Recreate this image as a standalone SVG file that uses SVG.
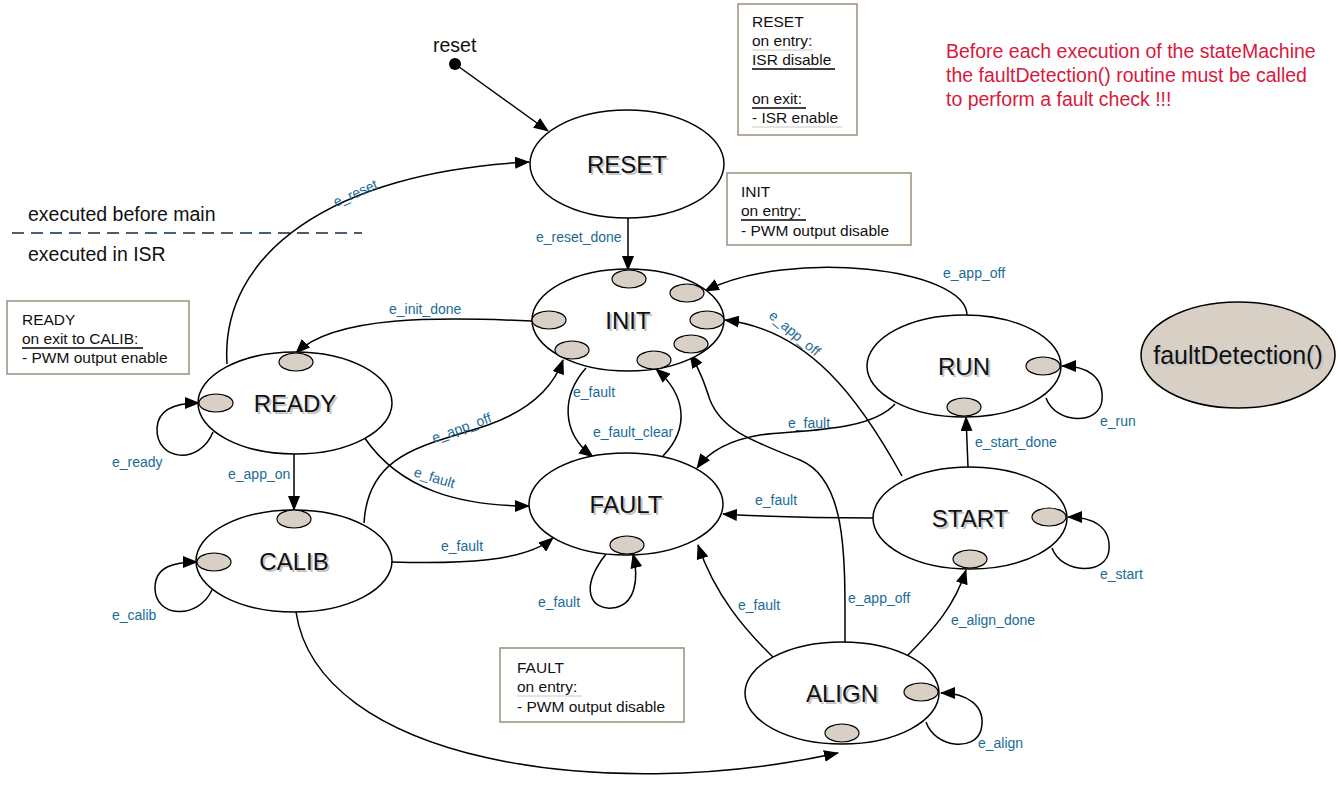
<svg xmlns="http://www.w3.org/2000/svg" width="1341" height="788" viewBox="0 0 1341 788">
<style>
text{font-family:"Liberation Sans",Arial,sans-serif}
.st{fill:#fff;stroke:#000;stroke-width:1.5}
.mk{fill:#d8d0c5;stroke:#000;stroke-width:1.2}
.lbl{font-size:24px;fill:#111;text-anchor:middle}
.sh{font-size:24px;fill:#c4c4c4;text-anchor:middle}
.el{font-size:14px;fill:#1a6b98}
.note{fill:#fff;stroke:#9c8d7d;stroke-width:1.5}
.nt{font-size:15.5px;fill:#111}
.c{fill:none;stroke:#000;stroke-width:1.5}
.red{font-size:19.5px;fill:#d7193c}
.big{font-size:19.5px;fill:#111}
.ul{stroke:#000;stroke-width:1.3}
.ulg{stroke:#c8c8c8;stroke-width:1}
</style>
<defs>
<marker id="ah" markerWidth="15" markerHeight="12" refX="14" refY="6" orient="auto" markerUnits="userSpaceOnUse"><path d="M0,0 L15,6 L0,12 z" fill="#000"/></marker>
</defs>
<rect width="1341" height="788" fill="#fff"/>

<!-- separator -->
<text class="big" x="28" y="221">executed before main</text>
<line x1="12" y1="233" x2="362" y2="233" stroke="#4a5e72" stroke-width="2" stroke-dasharray="12 7"/>
<text class="big" x="28" y="261">executed in ISR</text>

<!-- red note -->
<text class="red" x="946" y="58">Before each execution of the stateMachine</text>
<text class="red" x="946" y="82">the faultDetection() routine must be called</text>
<text class="red" x="946" y="106">to perform a fault check !!!</text>

<!-- notes -->
<g id="note-reset">
<rect class="note" x="738" y="4" width="119" height="131"/>
<text class="nt" x="752" y="27">RESET</text>
<text class="nt" x="752" y="46">on entry:</text>
<line class="ulg" x1="752" y1="50" x2="813" y2="50"/>
<text class="nt" x="752" y="65">ISR disable</text>
<line class="ul" x1="752" y1="69" x2="835" y2="69"/>
<text class="nt" x="752" y="104">on exit:</text>
<line class="ul" x1="752" y1="108" x2="806" y2="108"/>
<text class="nt" x="752" y="123">- ISR enable</text>
<line class="ulg" x1="752" y1="127" x2="842" y2="127"/>
</g>
<g id="note-init">
<rect class="note" x="727" y="173" width="184" height="72"/>
<text class="nt" x="741" y="197">INIT</text>
<text class="nt" x="741" y="216">on entry:</text>
<line class="ul" x1="741" y1="220" x2="806" y2="220"/>
<text class="nt" x="741" y="236">- PWM output disable</text>
</g>
<g id="note-ready">
<rect class="note" x="7" y="301" width="182" height="73"/>
<text class="nt" x="22" y="325">READY</text>
<text class="nt" x="22" y="344">on exit to CALIB:</text>
<line class="ul" x1="22" y1="348" x2="143" y2="348"/>
<text class="nt" x="22" y="363">- PWM output enable</text>
</g>
<g id="note-fault">
<rect class="note" x="500" y="648" width="184" height="74"/>
<text class="nt" x="517" y="673">FAULT</text>
<text class="nt" x="517" y="692">on entry:</text>
<line class="ulg" x1="517" y1="696" x2="582" y2="696"/>
<text class="nt" x="517" y="712">- PWM output disable</text>
</g>

<!-- connectors -->
<g id="connectors">
<circle cx="455" cy="64" r="6" fill="#000"/>
<path class="c" d="M455,64 L548,131" marker-end="url(#ah)"/>
<path class="c" d="M227,364 C220,255 330,172 529,162" marker-end="url(#ah)"/>
<path class="c" d="M628,218 L628,270" marker-end="url(#ah)"/>
<path class="c" d="M532,321 C440,317 335,315 296,353" marker-end="url(#ah)"/>
<path class="c" d="M213,432 C200,465 156,462 157,428 C158,408 178,403 199,403" marker-end="url(#ah)"/>
<path class="c" d="M294,454 L294,510" marker-end="url(#ah)"/>
<path class="c" d="M364,437 C400,490 460,506 529,506" marker-end="url(#ah)"/>
<path class="c" d="M364,523 C368,450 430,445 488,425 C530,410 553,388 563,360" marker-end="url(#ah)"/>
<path class="c" d="M392,562 C460,564 525,562 553,538" marker-end="url(#ah)"/>
<path class="c" d="M212,590 C198,620 155,618 155,588 C155,566 175,562 197,562" marker-end="url(#ah)"/>
<path class="c" d="M296,612 C318,760 600,805 838,753" marker-end="url(#ah)"/>
<path class="c" d="M586,368 C562,395 560,432 593,457" marker-end="url(#ah)"/>
<path class="c" d="M663,456 C690,428 686,395 656,369" marker-end="url(#ah)"/>
<path class="c" d="M606,554 C578,590 592,610 612,608 C636,606 639,578 633,554" marker-end="url(#ah)"/>
<path class="c" d="M873,518 C800,518 770,517 723,514" marker-end="url(#ah)"/>
<path class="c" d="M895,404 C870,432 800,430 760,435 C730,440 710,450 697,468" marker-end="url(#ah)"/>
<path class="c" d="M773,657 C745,630 715,595 698,545" marker-end="url(#ah)"/>
<path class="c" d="M845,643 C845,560 848,480 800,460 C750,440 722,430 710,400 C705,385 700,370 690,354" marker-end="url(#ah)"/>
<path class="c" d="M902,476 C860,400 810,330 725,320" marker-end="url(#ah)"/>
<path class="c" d="M967,315 C966,268 790,248 705,291" marker-end="url(#ah)"/>
<path class="c" d="M968,467 L966,417" marker-end="url(#ah)"/>
<path class="c" d="M1046,398 C1056,425 1100,425 1102,400 C1104,375 1085,366 1062,366" marker-end="url(#ah)"/>
<path class="c" d="M1052,548 C1062,575 1107,575 1109,550 C1111,526 1092,517 1068,517" marker-end="url(#ah)"/>
<path class="c" d="M907,656 C935,628 955,605 966,570" marker-end="url(#ah)"/>
<path class="c" d="M926,722 C935,748 975,752 981,730 C987,705 966,693 941,693" marker-end="url(#ah)"/>

<text class="el" x="336" y="207" transform="rotate(-24 336 207)">e_reset</text>
<text class="el" x="536" y="242">e_reset_done</text>
<text class="el" x="389" y="314">e_init_done</text>
<text class="el" x="112" y="467">e_ready</text>
<text class="el" x="228" y="479">e_app_on</text>
<text class="el" x="413" y="476" transform="rotate(17 413 476)">e_fault</text>
<text class="el" x="434" y="443" transform="rotate(-20 434 443)">e_app_off</text>
<text class="el" x="441" y="551">e_fault</text>
<text class="el" x="112" y="620">e_calib</text>
<text class="el" x="573" y="397">e_fault</text>
<text class="el" x="593" y="437">e_fault_clear</text>
<text class="el" x="538" y="607">e_fault</text>
<text class="el" x="755" y="505">e_fault</text>
<text class="el" x="788" y="428">e_fault</text>
<text class="el" x="738" y="610">e_fault</text>
<text class="el" x="848" y="603">e_app_off</text>
<text class="el" x="768" y="317" transform="rotate(40 768 317)">e_app_off</text>
<text class="el" x="943" y="278">e_app_off</text>
<text class="el" x="975" y="447">e_start_done</text>
<text class="el" x="1100" y="426">e_run</text>
<text class="el" x="1100" y="579">e_start</text>
<text class="el" x="951" y="625">e_align_done</text>
<text class="el" x="978" y="748">e_align</text>
<text class="big" x="433" y="52">reset</text>
</g>

<!-- nodes -->
<g id="RESET">
<ellipse class="st" cx="627" cy="164" rx="97" ry="54"/>
<text class="sh" x="629" y="174.5">RESET</text><text class="lbl" x="627" y="173">RESET</text>
</g>
<g id="INIT">
<ellipse class="st" cx="628" cy="320" rx="96" ry="51"/>
<text class="sh" x="630" y="330.5">INIT</text><text class="lbl" x="628" y="329">INIT</text>
<ellipse class="mk" cx="629" cy="279" rx="17" ry="9"/>
<ellipse class="mk" cx="687" cy="293" rx="17" ry="9"/>
<ellipse class="mk" cx="707" cy="320" rx="17" ry="9"/>
<ellipse class="mk" cx="549" cy="320" rx="17" ry="9"/>
<ellipse class="mk" cx="572" cy="350" rx="17" ry="9"/>
<ellipse class="mk" cx="691" cy="344" rx="17" ry="9"/>
<ellipse class="mk" cx="654" cy="360" rx="17" ry="9"/>
</g>
<g id="READY">
<ellipse class="st" cx="295" cy="403" rx="97" ry="51"/>
<text class="sh" x="297" y="413.5">READY</text><text class="lbl" x="295" y="412">READY</text>
<ellipse class="mk" cx="296" cy="362" rx="17" ry="9"/>
<ellipse class="mk" cx="216" cy="403" rx="17" ry="9"/>
</g>
<g id="CALIB">
<ellipse class="st" cx="294" cy="561" rx="98" ry="51"/>
<text class="sh" x="296" y="571.5">CALIB</text><text class="lbl" x="294" y="570">CALIB</text>
<ellipse class="mk" cx="294" cy="519" rx="17" ry="9"/>
<ellipse class="mk" cx="214" cy="562" rx="17" ry="9"/>
</g>
<g id="FAULT">
<ellipse class="st" cx="626" cy="504" rx="97" ry="51"/>
<text class="sh" x="628" y="514.5">FAULT</text><text class="lbl" x="626" y="513">FAULT</text>
<ellipse class="mk" cx="627" cy="545" rx="17" ry="9"/>
</g>
<g id="RUN">
<ellipse class="st" cx="964" cy="366" rx="97" ry="51"/>
<text class="sh" x="966" y="376.5">RUN</text><text class="lbl" x="964" y="375">RUN</text>
<ellipse class="mk" cx="1043" cy="366" rx="17" ry="9"/>
<ellipse class="mk" cx="964" cy="407" rx="17" ry="9"/>
</g>
<g id="START">
<ellipse class="st" cx="970" cy="518" rx="97" ry="51"/>
<text class="sh" x="972" y="528.5">START</text><text class="lbl" x="970" y="527">START</text>
<ellipse class="mk" cx="1049" cy="517" rx="17" ry="9"/>
<ellipse class="mk" cx="970" cy="559" rx="17" ry="9"/>
</g>
<g id="ALIGN">
<ellipse class="st" cx="842" cy="693" rx="97" ry="51"/>
<text class="sh" x="844" y="703.5">ALIGN</text><text class="lbl" x="842" y="702">ALIGN</text>
<ellipse class="mk" cx="921" cy="692" rx="17" ry="9"/>
<ellipse class="mk" cx="842" cy="733" rx="17" ry="9"/>
</g>
<g id="faultDetection">
<ellipse cx="1238" cy="355" rx="97" ry="53" fill="#d8d0c5" stroke="#000" stroke-width="1.5"/>
<text class="sh" x="1240" y="365.5" style="font-size:25px">faultDetection()</text><text class="lbl" x="1238" y="364" style="font-size:25px">faultDetection()</text>
</g>
</svg>
